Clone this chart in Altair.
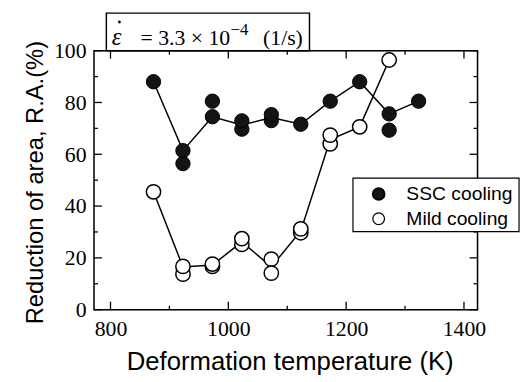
import altair as alt
import pandas as pd

# ---- data ----
ssc_T = [873, 923, 923, 973, 973, 1023, 1023, 1073, 1073, 1123, 1173, 1223, 1273, 1273, 1323]
ssc_RA = [88, 56.4, 61.4, 80.5, 74.5, 69.7, 72.9, 73, 75.3, 71.6, 80.5, 88, 69.3, 75.6, 80.5]
ssc_line_T = [873, 923, 973, 1023, 1073, 1123, 1173, 1223, 1273, 1323]
ssc_line_RA = [88, 61.4, 74.5, 71.3, 74.2, 71.6, 80.5, 88, 75.6, 80.5]

mild_T = [873, 923, 923, 973, 973, 1023, 1023, 1073, 1073, 1123, 1123, 1173, 1173, 1223, 1273]
mild_RA = [45.5, 13.7, 16.7, 16.7, 17.6, 25.2, 27.4, 19.5, 14.1, 29.7, 31.2, 64.0, 67.4, 70.6, 96.4]
mild_line_T = [873, 923, 973, 1023, 1073, 1123, 1173, 1223, 1273]
mild_line_RA = [45.5, 16.5, 17.2, 26.2, 16.5, 30.4, 65.7, 70.6, 96.4]

x_major = [800, 1000, 1200, 1400]
x_minor = [900, 1100, 1300]
y_major = [0, 20, 40, 60, 80, 100]
y_minor = [10, 30, 50, 70, 90]

legend_labels = ["SSC cooling", "Mild cooling"]

W, H = 388, 262
xscale = alt.Scale(domain=[772, 1423], nice=False, zero=False)
yscale = alt.Scale(domain=[0, 100], nice=False, zero=False)

one = alt.Data(values=[{"a": 1}])

ssc_pts = pd.DataFrame({"T": ssc_T, "RA": ssc_RA})
ssc_line = pd.DataFrame({"T": ssc_line_T, "RA": ssc_line_RA})
mild_pts = pd.DataFrame({"T": mild_T, "RA": mild_RA})
mild_line = pd.DataFrame({"T": mild_line_T, "RA": mild_line_RA})

xaxis = alt.Axis(values=x_major, format="d", ticks=False, domain=False, grid=False,
                 labelFont="Liberation Serif", labelFontSize=22, labelColor="black", labelPadding=9,
                 title="Deformation temperature (K)", titleFont="Liberation Sans", titleFontSize=26,
                 titleFontWeight="normal", titleColor="black", titleBaseline="alphabetic",
                 titleY=61, titleX=W / 2 + 4)
yaxis = alt.Axis(values=y_major, format="d", ticks=False, domain=False, grid=False,
                 labelFont="Liberation Serif", labelFontSize=22, labelColor="black", labelPadding=8,
                 title="Reduction of area, R.A.(%)", titleFont="Liberation Sans", titleFontSize=24,
                 titleFontWeight="normal", titleColor="black", titleBaseline="alphabetic",
                 titleAngle=270, titleX=-52, titleY=H / 2 + 2)

def X(f):
    return alt.X(f + ":Q", scale=xscale, axis=xaxis)

def Y(f):
    return alt.Y(f + ":Q", scale=yscale, axis=yaxis)

# frame
frame = alt.Chart(one).mark_rect(fillOpacity=0, stroke="black", strokeWidth=1.5).encode(
    x=alt.value(0), x2=alt.value(W), y=alt.value(0), y2=alt.value(H))

def xticks(vals, length):
    d = pd.DataFrame({"v": vals})
    bot = alt.Chart(d).mark_rule(color="black", strokeWidth=1.3).encode(
        x=X("v"), y=alt.value(H), y2=alt.value(H - length))
    top = alt.Chart(d).mark_rule(color="black", strokeWidth=1.3).encode(
        x=X("v"), y=alt.value(0), y2=alt.value(length))
    return [bot, top]

def yticks(vals, length):
    d = pd.DataFrame({"v": vals})
    left = alt.Chart(d).mark_rule(color="black", strokeWidth=1.3).encode(
        y=Y("v"), x=alt.value(0), x2=alt.value(length))
    right = alt.Chart(d).mark_rule(color="black", strokeWidth=1.3).encode(
        y=Y("v"), x=alt.value(W), x2=alt.value(W - length))
    return [left, right]

ticks = xticks(x_major, 8) + xticks(x_minor, 4) + yticks(y_major, 8) + yticks(y_minor, 4)

ssc_l = alt.Chart(ssc_line).mark_line(color="black", strokeWidth=1.5).encode(x=X("T"), y=Y("RA"))
mild_l = alt.Chart(mild_line).mark_line(color="black", strokeWidth=1.5).encode(x=X("T"), y=Y("RA"))

mild_p = alt.Chart(mild_pts).mark_point(shape="circle", filled=True, fill="white", stroke="black",
                                         strokeWidth=1.5, size=210, opacity=1).encode(x=X("T"), y=Y("RA"))
ssc_p = alt.Chart(ssc_pts).mark_point(shape="circle", filled=True, fill="#141414", stroke="black",
                                       strokeWidth=1, size=210, opacity=1).encode(x=X("T"), y=Y("RA"))

# strain-rate box
serif = "Liberation Serif"
tbox = alt.Chart(one).mark_rect(fill="white", stroke="black", strokeWidth=1.5).encode(
    x=alt.value(12.5), x2=alt.value(218), y=alt.value(-38), y2=alt.value(0))
t1 = alt.Chart(one).mark_text(text="ε", font=serif, fontStyle="italic", fontSize=25, align="left",
                              baseline="alphabetic", color="black").encode(x=alt.value(18), y=alt.value(-6))
tdot = alt.Chart(one).mark_point(shape="circle", filled=True, color="black", size=8, opacity=1).encode(
    x=alt.value(25.7), y=alt.value(-29))
t2 = alt.Chart(one).mark_text(text="= 3.3 × 10", font=serif, fontSize=22, align="left",
                              baseline="alphabetic", color="black").encode(x=alt.value(47), y=alt.value(-6))
t3 = alt.Chart(one).mark_text(text="−4", font=serif, fontSize=17, align="left",
                              baseline="alphabetic", color="black").encode(x=alt.value(138), y=alt.value(-16))
t4 = alt.Chart(one).mark_text(text="(1/s)", font=serif, fontSize=22, align="left",
                              baseline="alphabetic", color="black").encode(x=alt.value(171), y=alt.value(-6))

# legend
lbox = alt.Chart(one).mark_rect(fill="white", stroke="black", strokeWidth=1.2).encode(
    x=alt.value(262), x2=alt.value(430), y=alt.value(129), y2=alt.value(183))
lg1 = alt.Chart(one).mark_point(shape="circle", filled=True, fill="#141414", stroke="black",
                                size=140, opacity=1).encode(x=alt.value(288), y=alt.value(145))
lg2 = alt.Chart(one).mark_point(shape="circle", filled=True, fill="white", stroke="black",
                                strokeWidth=1.3, size=140, opacity=1).encode(x=alt.value(288), y=alt.value(170))
lt1 = alt.Chart(one).mark_text(text=legend_labels[0], font="Liberation Sans", fontSize=19.5, align="left",
                               baseline="middle", color="black").encode(x=alt.value(316), y=alt.value(145))
lt2 = alt.Chart(one).mark_text(text=legend_labels[1], font="Liberation Sans", fontSize=19.5, align="left",
                               baseline="middle", color="black").encode(x=alt.value(316), y=alt.value(170))

chart = alt.layer(
    ssc_l, frame, *ticks, mild_l, mild_p, ssc_p, tbox, t1, tdot, t2, t3, t4, lbox, lg1, lg2, lt1, lt2
).properties(
    width=W, height=H, autosize="none",
    padding={"left": 87, "top": 41, "right": 45, "bottom": 70}
).configure_view(stroke=None).configure(background="white")

chart.save("out.html", embed_options={"renderer": "svg", "actions": False})
